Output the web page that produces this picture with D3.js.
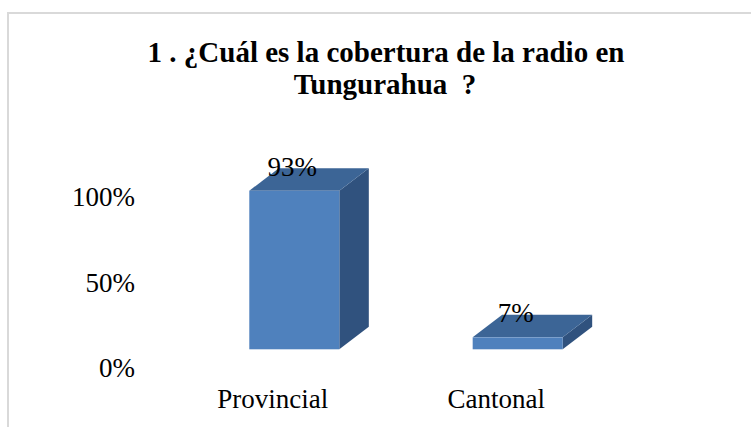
<!DOCTYPE html>
<html><head><meta charset="utf-8">
<script src="https://cdn.jsdelivr.net/npm/d3@7"></script>
<style>
html,body{margin:0;padding:0;background:#fff;}
svg{display:block;}
text{font-family:"Liberation Serif","Times New Roman",serif;fill:#000;}
</style></head>
<body>
<script>
const titleLines = ["1 . ¿Cuál es la cobertura de la radio en", "Tungurahua \u00a0?"];
const categories = ["Provincial", "Cantonal"];
const values = [0.93, 0.07];
const valueLabels = ["93%", "7%"];
const tickValues = [0, 0.5, 1];
const tickLabels = ["0%", "50%", "100%"];

const W = 751, H = 427;
const svg = d3.select("body").append("svg").attr("width", W).attr("height", H);

svg.append("rect").attr("x", 8).attr("y", 13).attr("width", W + 10).attr("height", H + 10)
  .attr("fill", "#fff").attr("stroke", "#d9d9d9").attr("stroke-width", 2);

svg.append("g").selectAll("text").data(titleLines).join("text")
  .attr("x", (d, i) => i === 0 ? 386 : 385).attr("y", (d, i) => 62 + i * 32)
  .attr("text-anchor", "middle")
  .style("font-size", "29px").style("font-weight", "700")
  .text(d => d);

const x = d3.scaleBand().domain(categories).range([137.6, 674.4]).paddingInner(0.597).paddingOuter(0.5);
const y = d3.scaleLinear().domain([0, 1]).range([349.3, 178.8]);
const dx = 29.5, dy = -22.5;

const colFront = "#4f81bd", colTop = "#3c6596", colSide = "#30527e";

const bars = svg.append("g");
categories.forEach((c, i) => {
  const x0 = x(c), x1 = x(c) + x.bandwidth();
  const yt = y(values[i]), yb = y(0);
  const g = bars.append("g");
  g.append("path").attr("d", d3.line()([[x1, yt], [x1 + dx, yt + dy], [x1 + dx, yb + dy], [x1, yb]]))
    .attr("fill", colSide);
  g.append("path").attr("d", d3.line()([[x0, yt], [x0 + dx, yt + dy], [x1 + dx, yt + dy], [x1, yt]]))
    .attr("fill", colTop);
  g.append("rect").attr("x", x0).attr("y", yt).attr("width", x.bandwidth()).attr("height", yb - yt)
    .attr("fill", colFront);
  g.append("text").attr("x", (x0 + x1) / 2 - 2).attr("y", yt - 15)
    .attr("text-anchor", "middle").attr("font-size", 27).text(valueLabels[i]);
});

svg.append("g").selectAll("text").data(tickValues).join("text")
  .attr("x", 135).attr("y", d => y(d) + 27.5)
  .attr("text-anchor", "end").attr("font-size", 27)
  .text((d, i) => tickLabels[i]);

svg.append("g").selectAll("text").data(categories).join("text")
  .attr("x", d => x(d) + x.bandwidth() / 2 - 21.5).attr("y", 408)
  .attr("text-anchor", "middle").attr("font-size", 27)
  .text(d => d);
</script>
</body></html>
